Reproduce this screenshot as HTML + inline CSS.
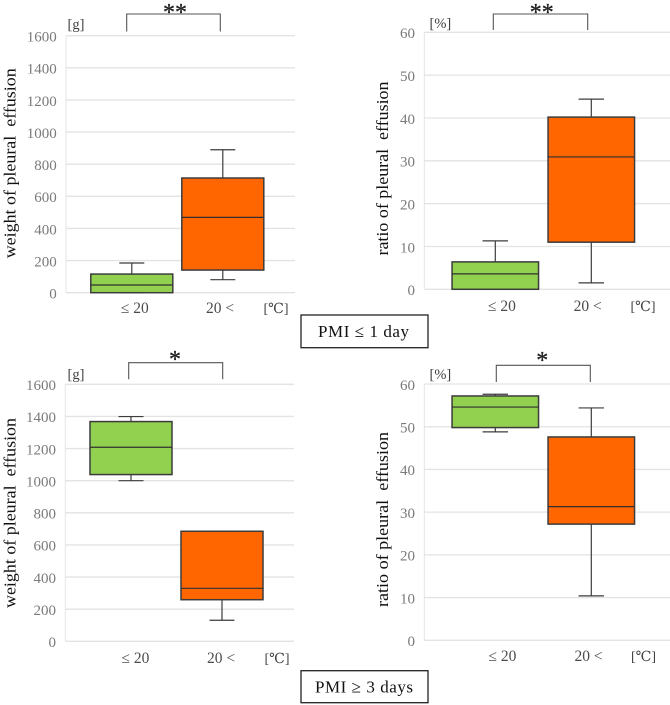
<!DOCTYPE html>
<html>
<head>
<meta charset="utf-8">
<title>Pleural effusion box plots</title>
<style>
html,body{margin:0;padding:0;background:#fff;}
#chart{display:block;width:670px;height:705px;font-family:"Liberation Serif","DejaVu Serif",serif;filter:blur(0.3px);}
</style>
</head>
<body>
<svg id="chart" xmlns="http://www.w3.org/2000/svg" width="670" height="705" viewBox="0 0 670 705"></svg>
<script>
// ---- Data ----
const categories = ['≤ 20', '20 <'];
const weightTicks = [0, 200, 400, 600, 800, 1000, 1200, 1400, 1600];
const ratioTicks = [0, 10, 20, 30, 40, 50, 60];

// PMI <= 1 day, weight [g]
const day1WeightLow = [0, 81];
const day1WeightQ1 = [0, 141];
const day1WeightMedian = [48, 469];
const day1WeightQ3 = [116, 714];
const day1WeightHigh = [185, 890];

// PMI <= 1 day, ratio [%]
const day1RatioLow = [0, 1.5];
const day1RatioQ1 = [0, 11];
const day1RatioMedian = [3.6, 30.9];
const day1RatioQ3 = [6.4, 40.2];
const day1RatioHigh = [11.3, 44.4];

// PMI >= 3 days, weight [g]
const day3WeightLow = [1000, 131];
const day3WeightQ1 = [1038, 259];
const day3WeightMedian = [1208, 330];
const day3WeightQ3 = [1368, 685];
const day3WeightHigh = [1399, 685];

// PMI >= 3 days, ratio [%]
const day3RatioLow = [48.8, 10.4];
const day3RatioQ1 = [49.8, 27.2];
const day3RatioMedian = [54.6, 31.3];
const day3RatioQ3 = [57.2, 47.6];
const day3RatioHigh = [57.6, 54.4];

// ---- Layout of each panel ----
const panels = [
  {id:'day1-weight', left:66, right:295, top:35.7, bottom:292.7, first:131.8, band:91, boxW:82, capW:25,
   ticks:weightTicks, max:1600, low:day1WeightLow, q1:day1WeightQ1, med:day1WeightMedian, q3:day1WeightQ3, high:day1WeightHigh,
   title:'weight of pleural\u00a0\u00a0effusion', titleX:15.7, titleY:163.3, titleLen:190, unit:'[g]', unitX:67.5, unitY:29,
   catX:[134.8,220], catY:313, degX:263.5, degY:313,
   br:[126.7,220.3,14,31.5], star:'**', starX:175, starY:20},
  {id:'day1-ratio', left:424.3, right:670, top:32.3, bottom:289.3, first:495.3, band:96, boxW:86.5, capW:25.5,
   ticks:ratioTicks, max:60, low:day1RatioLow, q1:day1RatioQ1, med:day1RatioMedian, q3:day1RatioQ3, high:day1RatioHigh,
   title:'ratio of pleural\u00a0\u00a0effusion', titleX:388, titleY:168.5, titleLen:174, unit:'[%]', unitX:429.5, unitY:28,
   catX:[502,587.7], catY:311, degX:630.5, degY:311,
   br:[493.3,587.7,14,30], star:'**', starX:541.7, starY:20},
  {id:'day3-weight', left:65.3, right:294, top:384.3, bottom:641.3, first:131, band:91, boxW:82, capW:25,
   ticks:weightTicks, max:1600, low:day3WeightLow, q1:day3WeightQ1, med:day3WeightMedian, q3:day3WeightQ3, high:day3WeightHigh,
   title:'weight of pleural\u00a0\u00a0effusion', titleX:15.7, titleY:513, titleLen:190, unit:'[g]', unitX:67.5, unitY:379,
   catX:[135.5,221], catY:663, degX:264.5, degY:663,
   br:[128.7,222.7,362.7,379.3], star:'*', starX:175, starY:367},
  {id:'day3-ratio', left:424.3, right:670, top:384, bottom:640.3, first:495.3, band:96, boxW:86.5, capW:25.5,
   ticks:ratioTicks, max:60, low:day3RatioLow, q1:day3RatioQ1, med:day3RatioMedian, q3:day3RatioQ3, high:day3RatioHigh,
   title:'ratio of pleural\u00a0\u00a0effusion', titleX:388, titleY:519.5, titleLen:175, unit:'[%]', unitX:429.5, unitY:379,
   catX:[502.5,588.5], catY:661, degX:631, degY:661,
   br:[496.3,590.3,365.3,382], star:'*', starX:542.3, starY:368}
];

const boxFills = ['#92D050', '#FF6600'];
const NS = 'http://www.w3.org/2000/svg';
const svg = document.getElementById('chart');

function make(tag, attrs, name, text) {
  const el = document.createElementNS(NS, tag);
  for (const k in attrs) el.setAttribute(k, attrs[k]);
  
  
  if (text !== undefined) el.textContent = text;
  return el;
}

function drawPanel(p) {
  const g = make('g', {}, p.id + '-panel');
  svg.appendChild(g);
  const y = v => p.bottom - (v / p.max) * (p.bottom - p.top);
  const x = i => p.first + i * p.band;

  // Y axis line
  g.appendChild(make('line', {x1:p.left, x2:p.left, y1:p.top, y2:p.bottom, stroke:'#e4e4e4', 'stroke-width':1}, p.id + '-y-axis'));

  // Gridlines and tick labels
  p.ticks.forEach(t => {
    g.appendChild(make('line', {x1:p.left, x2:p.right, y1:y(t), y2:y(t), stroke:'#e3e3e3', 'stroke-width':1.3}, p.id + '-gridline-' + t));
    g.appendChild(make('text', {x:p.left - 9.3, y:y(t) + 5.8, 'text-anchor':'end', 'font-size':15, fill:'#7a7a7a'}, p.id + '-tick-' + t, String(t)));
  });

  // Boxes
  categories.forEach((c, i) => {
    const cx = x(i);
    const hw = p.boxW / 2;
    const cap = p.capW / 2;
    const stroke = '#3c3c3c';
    const boxName = p.id + '-box-' + (i === 0 ? 'low-temp' : 'high-temp');
    g.appendChild(make('line', {x1:cx, x2:cx, y1:y(p.high[i]), y2:y(p.q3[i]), stroke:stroke, 'stroke-width':1.2}, boxName + '-upper-whisker'));
    g.appendChild(make('line', {x1:cx, x2:cx, y1:y(p.q1[i]), y2:y(p.low[i]), stroke:stroke, 'stroke-width':1.2}, boxName + '-lower-whisker'));
    g.appendChild(make('line', {x1:cx - cap, x2:cx + cap, y1:y(p.high[i]), y2:y(p.high[i]), stroke:stroke, 'stroke-width':1.2}, boxName + '-upper-cap'));
    g.appendChild(make('line', {x1:cx - cap, x2:cx + cap, y1:y(p.low[i]), y2:y(p.low[i]), stroke:stroke, 'stroke-width':1.2}, boxName + '-lower-cap'));
    g.appendChild(make('rect', {x:cx - hw, y:y(p.q3[i]), width:p.boxW, height:y(p.q1[i]) - y(p.q3[i]), fill:boxFills[i], stroke:stroke, 'stroke-width':1.5}, boxName));
    g.appendChild(make('line', {x1:cx - hw, x2:cx + hw, y1:y(p.med[i]), y2:y(p.med[i]), stroke:'#303030', 'stroke-width':1.2}, boxName + '-median'));
    g.appendChild(make('text', {x:p.catX[i], y:p.catY, 'text-anchor':'middle', 'font-size':15.5, fill:'#4a4a4a'}, p.id + '-category-' + i, c));
  });

  // Units
  g.appendChild(make('text', {x:p.unitX, y:p.unitY, 'font-size':14.5, fill:'#404040'}, p.id + '-y-unit', p.unit));
  g.appendChild(make('text', {x:p.degX, y:p.degY, 'font-size':14, fill:'#404040'}, p.id + '-x-unit', '[℃]'));

  // Y title
  g.appendChild(make('text', {
    x:0, y:0, 'text-anchor':'middle', 'font-size':16.5, fill:'#111',
    textLength:p.titleLen, lengthAdjust:'spacingAndGlyphs',
    transform:'translate(' + p.titleX + ' ' + p.titleY + ') rotate(-90)'
  }, p.id + '-y-title', p.title));

  // Significance bracket
  const b = p.br;
  g.appendChild(make('path', {d:'M' + b[0] + ' ' + b[3] + 'V' + b[2] + 'H' + b[1] + 'V' + b[3], fill:'none', stroke:'#555', 'stroke-width':1.1}, p.id + '-significance-bracket'));
  g.appendChild(make('text', {x:p.starX, y:p.starY, 'text-anchor':'middle', 'font-size':24, fill:'#222', stroke:'#222', 'stroke-width':0.3}, p.id + '-significance-stars', p.star));
}

panels.forEach(drawPanel);

// PMI labels
const pmiBoxes = [
  {name:'pmi-1-day', y:315, h:32.7, text:'PMI ≤ 1 day', base:337, x:318, len:91},
  {name:'pmi-3-days', y:670.7, h:32, text:'PMI ≥ 3 days', base:692.5, x:315, len:98}
];
pmiBoxes.forEach(b => {
  svg.appendChild(make('rect', {x:301, y:b.y, width:127, height:b.h, fill:'#fff', stroke:'#222', 'stroke-width':1.3}, b.name + '-box'));
  svg.appendChild(make('text', {x:b.x, y:b.base, 'font-size':17, fill:'#111', textLength:b.len, lengthAdjust:'spacing'}, b.name + '-label', b.text));
});
</script>
</body>
</html>
